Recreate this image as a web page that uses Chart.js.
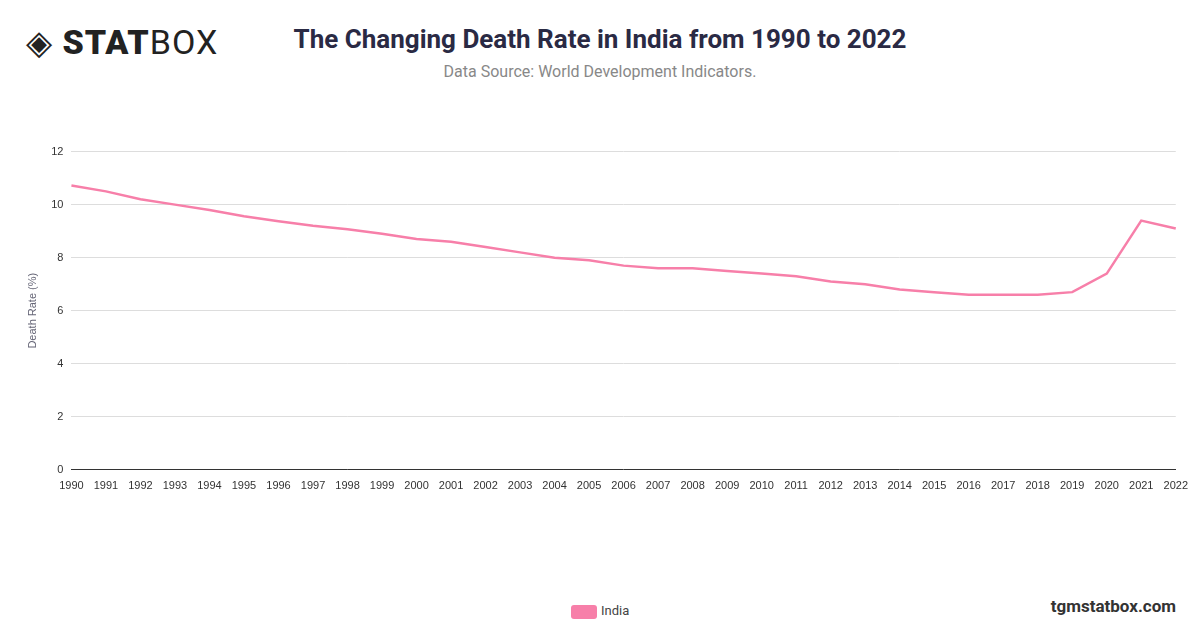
<!DOCTYPE html>
<html><head><meta charset="utf-8">
<script src="https://cdn.jsdelivr.net/npm/chart.js@4/dist/chart.umd.min.js"></script>
<style>
body{margin:0;width:1200px;height:628px;background:#fff;font-family:Roboto,"Open Sans",sans-serif;position:relative;overflow:hidden}
#logo{position:absolute;left:26px;top:22px;font-size:34px;color:#222;letter-spacing:1px}
#logo b{font-weight:900}
#title{position:absolute;left:0;width:1200px;top:24px;text-align:center;font-size:26px;font-weight:700;color:#2a2a44}
#sub{position:absolute;left:0;width:1200px;top:62px;text-align:center;font-size:16px;color:#888}
#wrap{position:absolute;left:22px;top:137px;width:1168px;height:358px}
#legend{position:absolute;left:571px;top:603px;font-size:13px;color:#444}
#legend span{display:inline-block;width:26px;height:14px;background:#f77fa9;border-radius:3px;vertical-align:middle;margin-right:4px}
#brand{position:absolute;right:24px;top:596px;font-size:17px;font-weight:700;color:#333}
</style></head><body>
<div id="logo">◈ <b>STAT</b>BOX</div>
<div id="title">The Changing Death Rate in India from 1990 to 2022</div>
<div id="sub">Data Source: World Development Indicators.</div>
<div id="wrap"><canvas id="c"></canvas></div>
<div id="legend"><span></span>India</div>
<div id="brand">tgmstatbox.com</div>
<script>
const years=[];for(let y=1990;y<=2022;y++)years.push(String(y));
const india=[10.72,10.5,10.2,10.0,9.8,9.56,9.37,9.2,9.07,8.9,8.7,8.6,8.4,8.2,8.0,7.9,7.7,7.6,7.6,7.5,7.4,7.3,7.1,7.0,6.8,6.7,6.6,6.6,6.6,6.7,7.4,9.4,9.1];
new Chart(document.getElementById('c'),{type:'line',
data:{labels:years,datasets:[{label:'India',data:india,borderColor:'#f77fa9',backgroundColor:'#f77fa9',borderWidth:2.5,pointRadius:0,tension:0}]},
options:{responsive:true,maintainAspectRatio:false,animation:false,
plugins:{legend:{display:false}},
layout:{padding:{right:6}},
scales:{x:{grid:{display:false},ticks:{color:'#333',font:{size:11},maxRotation:0,autoSkip:false,padding:2},border:{color:'#333'}},
y:{min:0,max:12,ticks:{stepSize:2,color:'#333',font:{size:11},padding:8},grid:{color:'#ddd',drawTicks:false},border:{display:false},
title:{display:true,text:'Death Rate (%)',color:'#667',font:{size:11}}}}}});
</script></body></html>
